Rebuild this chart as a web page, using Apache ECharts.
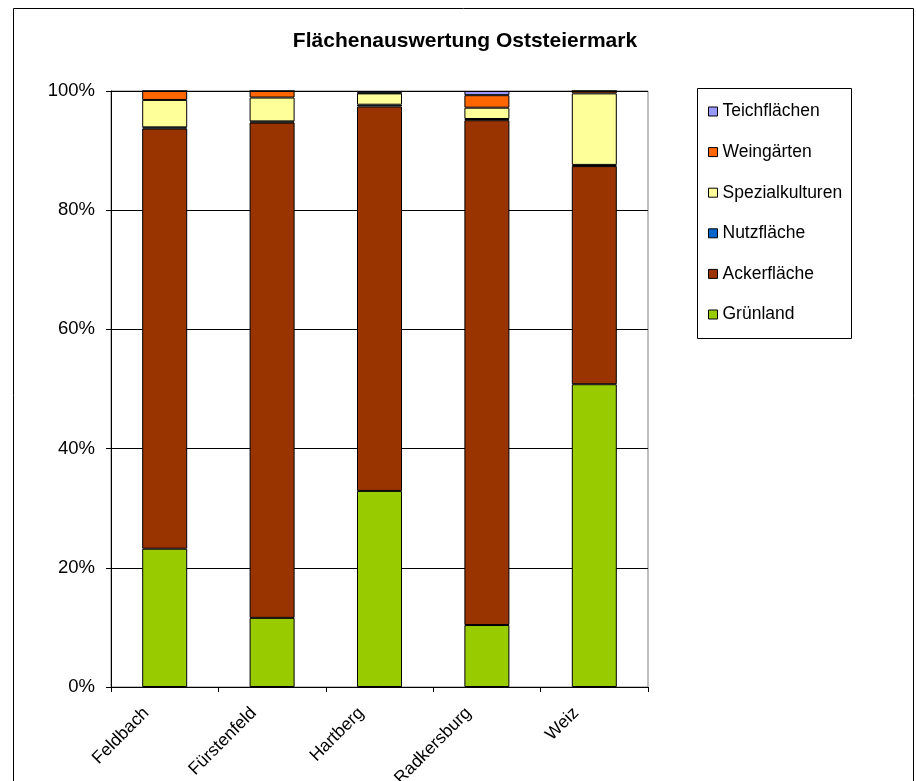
<!DOCTYPE html>
<html>
<head>
<meta charset="utf-8">
<script src="https://cdn.jsdelivr.net/npm/echarts@6/dist/echarts.min.js"></script>
<style>
  html, body { margin: 0; padding: 0; background: #fff; }
  #chart { width: 916px; height: 781px; }
</style>
</head>
<body>
<div id="chart"></div>
<script>
// Bezirke der Oststeiermark
const bezirke = ['Feldbach', 'Fürstenfeld', 'Hartberg', 'Radkersburg', 'Weiz'];

// Flächenanteile je Bezirk in Prozent
const gruenland        = [23.2, 11.6, 32.9, 10.4, 50.8];
const ackerflaeche     = [70.5, 83.1, 64.5, 84.7, 36.6];
const nutzflaeche      = [0.2, 0.2, 0.3, 0.2, 0.2];
const spezialkulturen  = [4.6, 4.0, 1.9, 1.9, 12.0];
const weingaerten      = [1.5, 1.1, 0.1, 2.1, 0.4];
const teichflaechen    = [0.0, 0.0, 0.3, 0.7, 0.0];

const yTicks = [0, 20, 40, 60, 80, 100];

const FONT = '"Liberation Sans", Arial, sans-serif';

const seriesDefs = [
  { name: 'Grünland',        data: gruenland,       color: '#99CC00' },
  { name: 'Ackerfläche',     data: ackerflaeche,    color: '#993300' },
  { name: 'Nutzfläche',      data: nutzflaeche,     color: '#0066CC' },
  { name: 'Spezialkulturen', data: spezialkulturen, color: '#FFFF99' },
  { name: 'Weingärten',      data: weingaerten,     color: '#FF6600' },
  { name: 'Teichflächen',    data: teichflaechen,   color: '#9999FF' }
];

const chart = echarts.init(document.getElementById('chart'), null, { renderer: 'canvas' });

chart.setOption({
  animation: false,
  backgroundColor: '#ffffff',
  title: {
    text: 'Flächenauswertung Oststeiermark',
    left: 465,
    top: 31,
    padding: 0,
    textAlign: 'center',
    textStyle: { fontFamily: FONT, fontWeight: 'bold', fontSize: 21, color: '#000' }
  },
  legend: {
    orient: 'vertical',
    left: 708,
    top: 102.5,
    padding: 0,
    itemWidth: 9,
    itemHeight: 9,
    itemGap: 22.6,
    icon: 'rect',
    data: seriesDefs.map(s => s.name).reverse(),
    textStyle: { fontFamily: FONT, fontSize: 17.5, lineHeight: 18, color: '#000' },
    itemStyle: { borderColor: '#000', borderWidth: 1 }
  },
  grid: {
    left: 111, right: 268, top: 91, bottom: 94,
    containLabel: false,
    outerBoundsMode: 'none',
    show: true, borderColor: '#808080', borderWidth: 1, backgroundColor: 'transparent'
  },
  xAxis: {
    type: 'category',
    data: bezirke,
    axisLine: { lineStyle: { color: '#000', width: 1 } },
    axisTick: { show: true, length: 5, lineStyle: { color: '#000' } },
    axisLabel: {
      rotate: 45,
      margin: 5,
      padding: [0, 26, 0, 0],
      fontFamily: FONT, fontSize: 17.5, color: '#000'
    }
  },
  yAxis: {
    type: 'value',
    min: yTicks[0],
    max: yTicks[yTicks.length - 1],
    interval: 20,
    axisLine: { show: true, lineStyle: { color: '#000', width: 1 } },
    axisTick: { show: true, length: 5, lineStyle: { color: '#000' } },
    splitLine: { show: true, lineStyle: { color: '#000', width: 1 } },
    axisLabel: {
      formatter: '{value}%',
      margin: 16,
      fontFamily: FONT, fontSize: 18.5, color: '#000'
    }
  },
  series: seriesDefs.map(s => ({
    name: s.name,
    type: 'bar',
    stack: 'flaeche',
    data: s.data,
    barWidth: 45,
    itemStyle: { color: s.color, borderColor: '#000', borderWidth: 1 }
  })),
  graphic: [
    {
      type: 'rect',
      shape: { x: 13.5, y: 8.5, width: 900, height: 800 },
      style: { fill: 'none', stroke: '#000', lineWidth: 1 },
      silent: true, z: 100
    },
    {
      type: 'rect',
      shape: { x: 697.5, y: 88.5, width: 154, height: 250 },
      style: { fill: 'none', stroke: '#000', lineWidth: 1 },
      silent: true, z: 100
    }
  ]
});
</script>
</body>
</html>
